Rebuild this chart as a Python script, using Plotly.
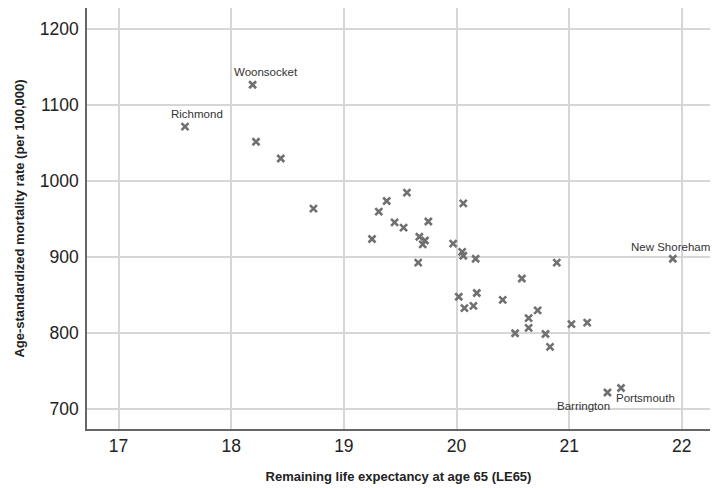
import plotly.graph_objects as go

le65 = [18.19, 17.59, 18.22, 18.44, 18.73,
        19.56, 19.38, 19.31, 20.06, 19.45, 19.53, 19.75, 19.25, 19.67, 19.72,
        19.70, 19.66, 19.97, 20.05, 20.06, 20.17, 20.89, 21.92, 20.58, 20.02,
        20.18, 20.41, 20.07, 20.15, 20.72, 20.64, 20.64, 20.52, 20.79, 20.83,
        21.02, 21.16, 21.34, 21.46]
mortality = [1127, 1072, 1052, 1030, 964,
             985, 974, 960, 971, 946, 939, 947, 924, 927, 922,
             917, 893, 918, 907, 902, 898, 893, 898, 872, 848,
             853, 844, 833, 836, 830, 820, 807, 800, 799, 782,
             812, 814, 722, 728]

labels = ["Woonsocket", "Richmond", "New Shoreham", "Barrington", "Portsmouth"]
label_x = [18.19, 17.59, 21.92, 21.34, 21.46]
label_y = [1127, 1072, 898, 722, 728]
label_shift = [(13, 13), (12, 13), (-2, 12), (-24, -13), (24, -10)]

x_ticks = [17, 18, 19, 20, 21, 22]
y_ticks = [700, 800, 900, 1000, 1100, 1200]

fig = go.Figure()
fig.add_trace(go.Scatter(
    x=le65, y=mortality, mode="markers",
    marker=dict(symbol="x-thin", size=7, color="#707070",
                line=dict(color="#707070", width=2.6)),
    showlegend=False, hoverinfo="skip"))

for t, xv, yv, (dx, dy) in zip(labels, label_x, label_y, label_shift):
    fig.add_annotation(x=xv, y=yv, text=t, showarrow=False,
                       xshift=dx, yshift=dy,
                       font=dict(size=11.5, color="#333333"))

font_family = "Arial, Liberation Sans, sans-serif"
fig.update_layout(
    width=713, height=488,
    margin=dict(l=87, r=3, t=8, b=59),
    paper_bgcolor="white", plot_bgcolor="white",
    font=dict(family=font_family, color="#222222"),
)
fig.update_xaxes(
    range=[16.72, 22.25], tickvals=x_ticks, automargin=False,
    showgrid=True, gridcolor="#d6d6d6", gridwidth=1.5,
    showline=True, linecolor="#666666", linewidth=1.5,
    zeroline=False, tickfont=dict(size=17.5, color="#222222"),
    title=dict(text="<b>Remaining life expectancy at age 65 (LE65)</b>",
               font=dict(size=13, color="#222222"), standoff=17),
)
fig.update_yaxes(
    range=[674, 1228], tickvals=y_ticks, automargin=False,
    ticklabelstandoff=3,
    showgrid=True, gridcolor="#d6d6d6", gridwidth=1.5,
    showline=True, linecolor="#666666", linewidth=1.5,
    zeroline=False, tickfont=dict(size=17.5, color="#222222"),
    title=dict(text="<b>Age-standardized mortality rate (per 100,000)</b>",
               font=dict(size=13, color="#222222"), standoff=12),
)

fig.write_html("out.html", config={"displayModeBar": False},
               post_script="document.body.style.margin='0';document.body.style.overflow='hidden';")
